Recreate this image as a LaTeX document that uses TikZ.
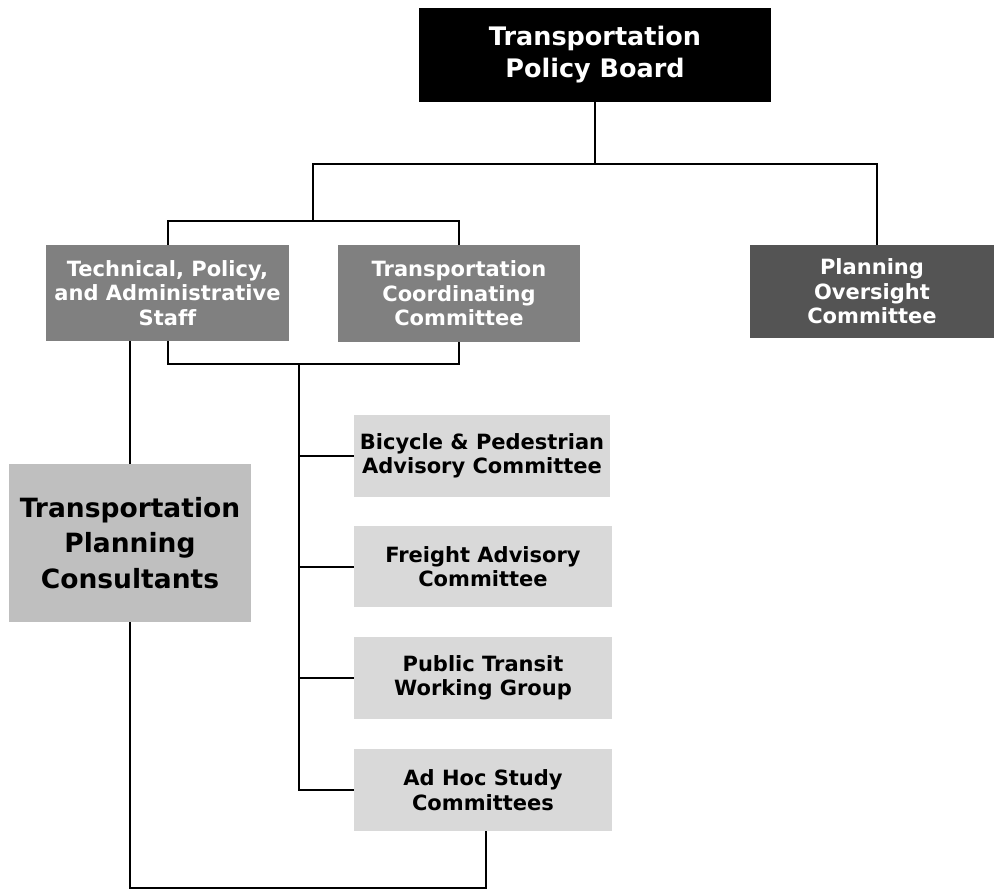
\documentclass[tikz,border=0pt]{standalone}
\usepackage{fontspec}
\setmainfont{DejaVu Sans}[Ligatures=NoCommon]
\begin{document}
\begin{tikzpicture}[x=1pt,y=-1pt,
  box/.style={rectangle, inner sep=0pt, align=center, font=\bfseries},
  big/.style={box, font=\fontsize{25.5}{32}\selectfont\bfseries},
  cons/.style={box, font=\fontsize{26.5}{35.5}\selectfont\bfseries},
  small/.style={box, font=\fontsize{21}{24.5}\selectfont\bfseries},
  conn/.style={line width=2pt, line join=miter, draw=black}]
\useasboundingbox (0,0) rectangle (994,890);
\fill[white] (0,0) rectangle (994,890);

\node[big, fill=black, text=white, minimum width=352pt, minimum height=94pt] (board) at (595,55) {Transportation\\Policy Board};
\node[small, fill=black!50, text=white, minimum width=243pt, minimum height=96pt] (tech) at (167.5,293) {Technical, Policy,\\and Administrative\\Staff};
\node[small, fill=black!50, text=white, minimum width=242pt, minimum height=97pt] (tcc) at (459,293.5) {Transportation\\Coordinating\\Committee};
\node[small, fill=black!67, text=white, minimum width=244pt, minimum height=93pt] (over) at (872,291.5) {Planning\\Oversight\\Committee};
\node[cons, fill=black!25, text=black, minimum width=242pt, minimum height=158pt] (consult) at (130,543) {Transportation\\Planning\\Consultants};
\node[small, fill=black!15, text=black, minimum width=256pt, minimum height=82pt] (bike) at (482,456) {Bicycle \& Pedestrian\\Advisory Committee};
\node[small, fill=black!15, text=black, minimum width=258pt, minimum height=81pt] (freight) at (483,566.5) {Freight Advisory\\Committee};
\node[small, fill=black!15, text=black, minimum width=258pt, minimum height=82pt] (transit) at (483,678) {Public Transit\\Working Group};
\node[small, fill=black!15, text=black, minimum width=258pt, minimum height=82pt] (adhoc) at (483,790) {Ad Hoc Study\\Committees};

\coordinate (jL) at (313,164);
\coordinate (jR) at (877,164);
\coordinate (jL2) at (313,221);
\coordinate (jB) at (299,364);
\coordinate (jBot) at (130,888);
\coordinate (jA) at (486,888);

\draw[conn] (board.south) -- (board.south |- jL);
\draw[conn] (jL2) -- (jL) -- (jR) -- (jR |- over.north);
\draw[conn] (tech.north) |- (jL2) -| (tcc.north);
\draw[conn] (tech.south) |- (jB) -| (tcc.south);
\draw[conn] (jB) |- (adhoc.west);
\draw[conn] (jB |- bike.west) -- (bike.west);
\draw[conn] (jB |- freight.west) -- (freight.west);
\draw[conn] (jB |- transit.west) -- (transit.west);
\draw[conn] (consult.north |- tech.south) -- (consult.north);
\draw[conn] (consult.south) -- (jBot) -- (jA) -- (jA |- adhoc.south);
\end{tikzpicture}
\end{document}
